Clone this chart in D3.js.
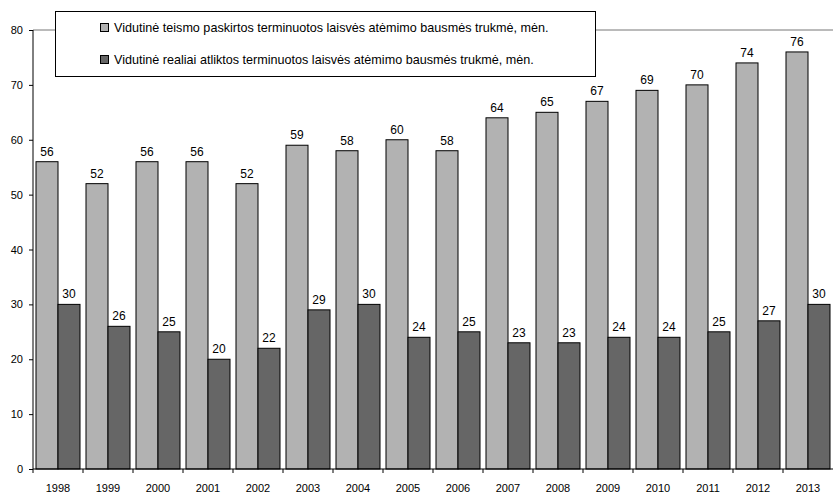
<!DOCTYPE html>
<html>
<head>
<meta charset="utf-8">
<script src="https://cdnjs.cloudflare.com/ajax/libs/d3/7.8.5/d3.min.js"></script>
<style>
  body { margin: 0; background: #fff; }
  svg { font-family: "Liberation Sans", Arial, sans-serif; }
</style>
</head>
<body>
<div id="chart"></div>
<script>
var years = ["1998","1999","2000","2001","2002","2003","2004","2005","2006","2007","2008","2009","2010","2011","2012","2013"];
var sentenced = [56, 52, 56, 56, 52, 59, 58, 60, 58, 64, 65, 67, 69, 70, 74, 76];
var served = [30, 26, 25, 20, 22, 29, 30, 24, 25, 23, 23, 24, 24, 25, 27, 30];
var seriesNames = [
    "Vidutinė teismo paskirtos terminuotos laisvės atėmimo bausmės trukmė, mėn.",
    "Vidutinė realiai atliktos terminuotos laisvės atėmimo bausmės trukmė, mėn."
];
var yTicks = [0, 10, 20, 30, 40, 50, 60, 70, 80];

var svgWidth = 833, svgHeight = 495;
var colors = ["#b2b2b2", "#666666"];

var svg = d3.select("#chart").append("svg")
    .attr("width", svgWidth)
    .attr("height", svgHeight);

var x = d3.scaleBand().domain(years).range([33, 833]).padding(0);
var xs = d3.scaleBand().domain([0, 1]).range([3, x.bandwidth() - 3]).padding(0);
var y = d3.scaleLinear().domain([0, 80]).range([469, 30]);

// top line at 80
svg.append("line")
    .attr("x1", 33).attr("x2", 833)
    .attr("y1", y(80)).attr("y2", y(80))
    .attr("stroke", "#777").attr("stroke-width", 1);

var rows = years.map(function(yr, i) {
    return { year: yr, values: [sentenced[i], served[i]] };
});

var grp = svg.selectAll(".yr")
    .data(rows)
    .enter().append("g")
    .attr("class", "yr")
    .attr("transform", function(d) { return "translate(" + x(d.year) + ",0)"; });

grp.selectAll("rect")
    .data(function(d) { return d.values.map(function(v, k) { return { k: k, v: v }; }); })
    .enter().append("rect")
    .attr("x", function(d) { return xs(d.k); })
    .attr("width", xs.bandwidth())
    .attr("y", function(d) { return y(d.v); })
    .attr("height", function(d) { return y(0) - y(d.v); })
    .attr("fill", function(d) { return colors[d.k]; })
    .attr("stroke", "#000")
    .attr("stroke-width", 1);

grp.selectAll("text")
    .data(function(d) { return d.values.map(function(v, k) { return { k: k, v: v }; }); })
    .enter().append("text")
    .attr("x", function(d) { return xs(d.k) + xs.bandwidth() / 2; })
    .attr("y", function(d) { return y(d.v) - 6; })
    .attr("text-anchor", "middle")
    .style("font-size", "12px")
    .attr("fill", "#000")
    .text(function(d) { return d.v; });

// y axis
var yAxis = svg.append("g")
    .attr("transform", "translate(33,0)")
    .call(d3.axisLeft(y).tickValues(yTicks).tickSize(4).tickPadding(6));
yAxis.select(".domain").attr("stroke", "#000").attr("d", "M0," + y(80) + "V" + y(0));
yAxis.selectAll("text").style("font-size", "11px").style("font-family", "Liberation Sans, Arial, sans-serif");

// x axis
var xAxis = svg.append("g")
    .attr("transform", "translate(0," + y(0) + ")");
xAxis.append("line")
    .attr("x1", 33).attr("x2", 833)
    .attr("stroke", "#000");
xAxis.selectAll(".tk")
    .data(years)
    .enter().append("line")
    .attr("class", "tk")
    .attr("x1", function(d) { return x(d); })
    .attr("x2", function(d) { return x(d); })
    .attr("y1", 0).attr("y2", 4)
    .attr("stroke", "#000");
xAxis.selectAll("text")
    .data(years)
    .enter().append("text")
    .attr("x", function(d) { return x(d) + x.bandwidth() / 2; })
    .attr("y", 23)
    .attr("text-anchor", "middle")
    .style("font-size", "11px")
    .text(function(d) { return d; });

// legend
var legend = svg.append("g");
legend.append("rect")
    .attr("x", 55.5).attr("y", 11.5)
    .attr("width", 540).attr("height", 65)
    .attr("fill", "#fff")
    .attr("stroke", "#000");
seriesNames.forEach(function(name, i) {
    var ly = 28 + i * 32;
    legend.append("rect")
        .attr("x", 100.5).attr("y", ly - 4.5)
        .attr("width", 8).attr("height", 8)
        .attr("fill", colors[i])
        .attr("stroke", "#000");
    legend.append("text")
        .attr("x", 114).attr("y", ly + 4)
        .style("font-size", "12.6px")
        .text(name);
});
</script>
</body>
</html>
